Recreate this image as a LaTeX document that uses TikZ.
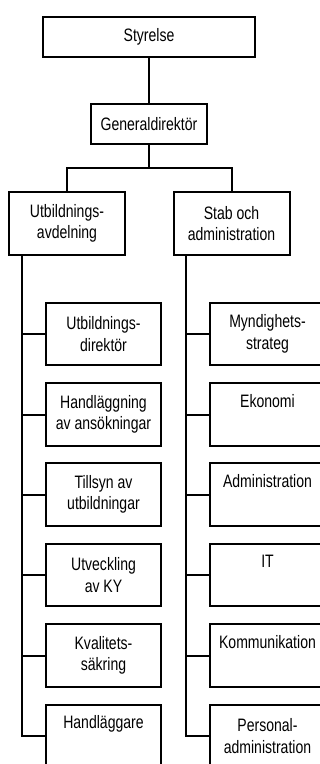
\documentclass[tikz,border=0pt]{standalone}
\usepackage{fontspec}
\setmainfont[FakeStretch=0.78]{Liberation Sans}
\begin{document}
\begin{tikzpicture}[x=1pt,y=-1pt,
        unit/.style = {draw, line width=2pt, align=center, inner sep=0pt,
            font=\fontsize{18}{21.5}\selectfont},
        topbox/.style = {unit, minimum width=212pt, minimum height=40pt},
        headbox/.style = {unit, minimum width=116pt, minimum height=40pt},
        deptbox/.style = {unit, minimum width=116pt, minimum height=63pt},
        subbox/.style = {unit, minimum width=115pt, minimum height=62.5pt},
        link/.style = {line width=2pt}]
    \useasboundingbox (0,0) rectangle (320,764);
    \clip (0,0) rectangle (320,764);
    \node[topbox] (sty) at (149,37) {Styrelse};
    \node[headbox] (gd) at (149,124) {Generaldirektör};
    \node[deptbox] (ua) at (67,223.5) {Utbildnings-\\avdelning};
    \node[deptbox] (sa) at (231.5,223.5) {Stab och\\administration};
    \node[subbox] (ua1) at (103.5,334) {Utbildnings-\\direktör};
    \node[subbox] (ua2) at (103.5,414.5) {Handläggning\\av ansökningar};
    \node[subbox] (ua3) at (103.5,494.5) {Tillsyn av\\utbildningar};
    \node[subbox] (ua4) at (103.5,575) {Utveckling\\av KY};
    \node[subbox] (ua5) at (103.5,655.5) {Kvalitets-\\säkring};
    \node[subbox] (ua6) at (103.5,736) {Handläggare\\\strut};
    \node[subbox] (sa1) at (267.5,334) {Myndighets-\\strateg};
    \node[subbox] (sa2) at (267.5,414.5) {Ekonomi\\\strut};
    \node[subbox] (sa3) at (267.5,494.5) {Administration\\\strut};
    \node[subbox] (sa4) at (267.5,575) {IT\\\strut};
    \node[subbox] (sa5) at (267.5,655.5) {Kommunikation\\\strut};
    \node[subbox] (sa6) at (267.5,736) {Personal-\\administration};
    \coordinate (utrunk) at ([xshift=14pt]ua.south west);
    \coordinate (strunk) at ([xshift=13pt]sa.south west);
    \draw[link] (sty) -- (gd);
    \draw[link] (gd.south) -- ++(0,23) -| (ua.north);
    \draw[link] (gd.south) -- ++(0,23) -| (sa.north);
    \foreach \i in {1,...,6} {
        \draw[link] (utrunk) |- (ua\i.west);
        \draw[link] (strunk) |- (sa\i.west);
    }
\end{tikzpicture}
\end{document}
